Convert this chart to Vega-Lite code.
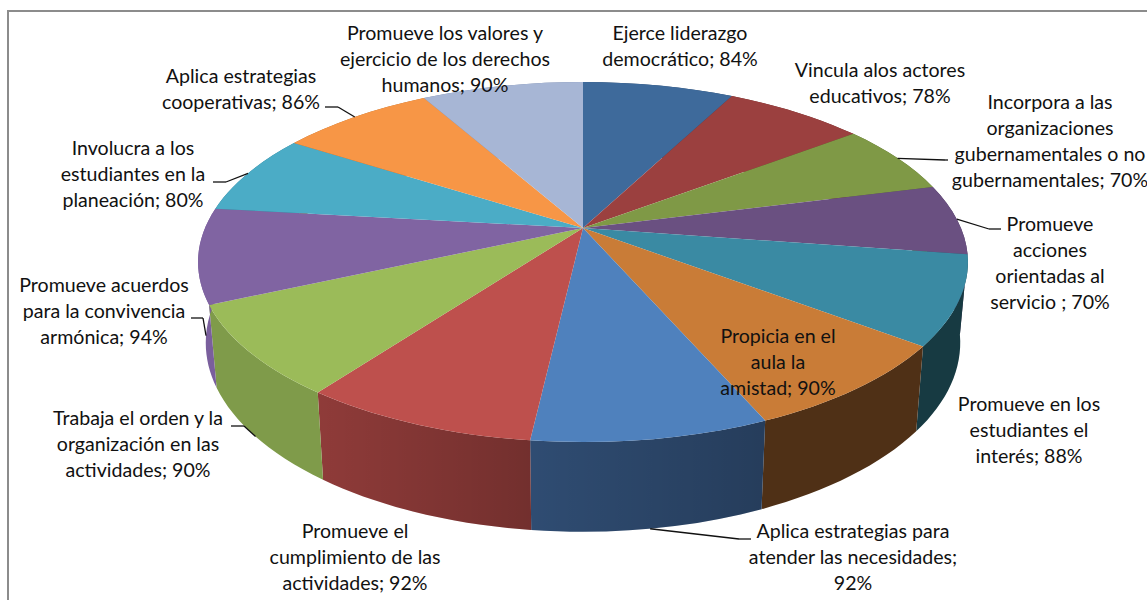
{
"$schema":"https://vega.github.io/schema/vega-lite/v6.json",
"width":1160,"height":610,
"padding":{"left":8,"top":11,"right":0,"bottom":0},
"autosize":{"type":"none"},
"background":"white",
"config":{"view":{"stroke":"#8c8c8c","strokeWidth":2}},
"datasets":{
"anchors":[
{"order":1,"tx":680,"ty":34,"ex":-1,"ey":-1,"ex2":-1},
{"order":2,"tx":880,"ty":71,"ex":-1,"ey":-1,"ex2":-1},
{"order":3,"tx":1050,"ty":103,"ex":945,"ey":160,"ex2":948},
{"order":4,"tx":1050,"ty":225,"ex":989,"ey":229,"ex2":1001},
{"order":5,"tx":1029,"ty":405,"ex":-1,"ey":-1,"ex2":-1},
{"order":6,"tx":778,"ty":337,"ex":-1,"ey":-1,"ex2":-1},
{"order":7,"tx":853,"ty":532,"ex":739,"ey":539,"ex2":751},
{"order":8,"tx":355,"ty":532,"ex":-1,"ey":-1,"ex2":-1},
{"order":9,"tx":138,"ty":419,"ex":244,"ey":426,"ex2":231},
{"order":10,"tx":104,"ty":286,"ex":203,"ey":318,"ex2":191},
{"order":11,"tx":133,"ty":149,"ex":226,"ey":182,"ex2":213},
{"order":12,"tx":241,"ty":77,"ex":338,"ey":107,"ex2":325},
{"order":13,"tx":445,"ty":34,"ex":-1,"ey":-1,"ex2":-1}
]
},
"data":{"values":[
{"order":1,"label":"Ejerce liderazgo\ndemocrático; 84%","value":84},
{"order":2,"label":"Vincula alos actores\neducativos; 78%","value":78},
{"order":3,"label":"Incorpora a las\norganizaciones\ngubernamentales o no\ngubernamentales; 70%","value":70},
{"order":4,"label":"Promueve\nacciones\norientadas al\nservicio ; 70%","value":70},
{"order":5,"label":"Promueve en los\nestudiantes el\ninterés; 88%","value":88},
{"order":6,"label":"Propicia en el\naula la\namistad; 90%","value":90},
{"order":7,"label":"Aplica estrategias para\natender las necesidades;\n92%","value":92},
{"order":8,"label":"Promueve el\ncumplimiento de las\nactividades; 92%","value":92},
{"order":9,"label":"Trabaja el orden y la\norganización en las\nactividades; 90%","value":90},
{"order":10,"label":"Promueve acuerdos\npara la convivencia\narmónica; 94%","value":94},
{"order":11,"label":"Involucra a los\nestudiantes en la\nplaneación; 80%","value":80},
{"order":12,"label":"Aplica estrategias\ncooperativas; 86%","value":86},
{"order":13,"label":"Promueve los valores y\nejercicio de los derechos\nhumanos; 90%","value":90}
]},
"transform":[
{"joinaggregate":[{"op":"sum","field":"value","as":"total"}]},
{"window":[{"op":"sum","field":"value","as":"cum"}],"sort":[{"field":"order","order":"ascending"}],"frame":[null,0]},
{"calculate":"2*PI*(datum.cum-datum.value)/datum.total","as":"t0"},
{"calculate":"2*PI*datum.cum/datum.total","as":"t1"},
{"calculate":"(datum.t0+datum.t1)/2","as":"tm"},
{"calculate":"1+0.189*cos(datum.t0)","as":"d0"},
{"calculate":"1+0.189*cos(datum.t1)","as":"d1"},
{"calculate":"1+0.189*cos(datum.tm)","as":"dm"},
{"calculate":"round(37800*sin(datum.t0)/datum.d0)/100","as":"px0"},
{"calculate":"round(-17360*cos(datum.t0)/datum.d0)/100","as":"py0"},
{"calculate":"round(37800*sin(datum.t1)/datum.d1)/100","as":"px1"},
{"calculate":"round(-17360*cos(datum.t1)/datum.d1)/100","as":"py1"},
{"calculate":"378*sin(datum.tm)/datum.dm","as":"pxm"},
{"calculate":"-173.6*cos(datum.tm)/datum.dm","as":"pym"},
{"calculate":"round(98*datum.px0)/100","as":"bx0"},
{"calculate":"round(105*datum.py0+7900)/100","as":"by0"},
{"calculate":"round(98*datum.px1)/100","as":"bx1"},
{"calculate":"round(105*datum.py1+7900)/100","as":"by1"},
{"calculate":"'M0,0L'+datum.px0+','+datum.py0+'A384.9,180 0 0 1 '+datum.px1+','+datum.py1+'Z'","as":"topPath"},
{"calculate":"'M'+datum.px0+','+datum.py0+'A384.9,180 0 0 1 '+datum.px1+','+datum.py1+'L'+datum.bx1+','+datum.by1+'A377.2,189 0 0 0 '+datum.bx0+','+datum.by0+'Z'","as":"wallPath"},
{"calculate":"-cos(datum.tm)>0.1","as":"front"},
{"calculate":"583+(datum.front?0.98:1)*datum.pxm","as":"rimX"},
{"calculate":"228+(datum.front?1.05*datum.pym+79:datum.pym)","as":"rimY"},
{"calculate":"583","as":"cx"},
{"calculate":"228","as":"cy"},
{"lookup":"order","from":{"data":{"name":"anchors"},"key":"order","fields":["tx","ty","ex","ey","ex2"]}}
],
"layer":[
{"mark":{"type":"point","filled":true,"opacity":1,"size":4},
"encoding":{
"x":{"field":"cx","type":"quantitative","scale":{"domain":[8,1168],"zero":false},"axis":null},
"y":{"field":"cy","type":"quantitative","scale":{"domain":[11,621],"reverse":true,"zero":false},"axis":null},
"shape":{"field":"wallPath","type":"nominal","scale":null},
"color":{"field":"order","type":"nominal","legend":null,"scale":{"domain":[1,2,3,4,5,6,7,8,9,10,11,12,13],"range":["#2b4668","#6b2c2b","#57692f","#473658","#173a42","#4f3016","#2f4c72","#8f3b39","#7f9b4a","#7a5f9d","#2e7a90","#b56a2a","#7485a8"]}}
}},
{"transform":[{"filter":"datum.order==7||datum.order==8"}],
"mark":{"type":"point","filled":true,"opacity":1,"size":4,"fill":{"gradient":"linear","x1":0,"y1":0,"x2":1,"y2":0,"stops":[{"offset":0,"color":"rgba(0,0,0,0)"},{"offset":1,"color":"rgba(0,0,0,0.2)"}]}},
"encoding":{
"x":{"field":"cx","type":"quantitative","scale":{"domain":[8,1168],"zero":false},"axis":null},
"y":{"field":"cy","type":"quantitative","scale":{"domain":[11,621],"reverse":true,"zero":false},"axis":null},
"shape":{"field":"wallPath","type":"nominal","scale":null}
}},
{"mark":{"type":"point","filled":true,"opacity":1,"size":4},
"encoding":{
"x":{"field":"cx","type":"quantitative","scale":{"domain":[8,1168],"zero":false},"axis":null},
"y":{"field":"cy","type":"quantitative","scale":{"domain":[11,621],"reverse":true,"zero":false},"axis":null},
"shape":{"field":"topPath","type":"nominal","scale":null},
"color":{"field":"order","type":"nominal","legend":null,"scale":{"domain":[1,2,3,4,5,6,7,8,9,10,11,12,13],"range":["#3e6a9b","#9b403f","#7f9946","#6a5081","#3a8aa3","#c97c37","#4f81bd","#be504d","#9bbb59","#8064a2","#4bacc6","#f79646","#a7b6d5"]}}
}},
{"transform":[{"filter":"datum.ex>0"}],
"mark":{"type":"rule","color":"#111111","strokeWidth":1.3},
"encoding":{
"x":{"field":"rimX","type":"quantitative","scale":{"domain":[8,1168],"zero":false},"axis":null},
"y":{"field":"rimY","type":"quantitative","scale":{"domain":[11,621],"reverse":true,"zero":false},"axis":null},
"x2":{"field":"ex"},"y2":{"field":"ey"}
}},
{"transform":[{"filter":"datum.ex>0"}],
"mark":{"type":"rule","color":"#111111","strokeWidth":1.3},
"encoding":{
"x":{"field":"ex","type":"quantitative","scale":{"domain":[8,1168],"zero":false},"axis":null},
"y":{"field":"ey","type":"quantitative","scale":{"domain":[11,621],"reverse":true,"zero":false},"axis":null},
"x2":{"field":"ex2"}
}},
{"mark":{"type":"text","font":"Lato","fontSize":19.6,"lineHeight":26,"lineBreak":"\n","align":"center","baseline":"middle","color":"#111111"},
"encoding":{
"x":{"field":"tx","type":"quantitative","scale":{"domain":[8,1168],"zero":false},"axis":null},
"y":{"field":"ty","type":"quantitative","scale":{"domain":[11,621],"reverse":true,"zero":false},"axis":null},
"text":{"field":"label","type":"nominal"}
}}
],
"resolve":{"scale":{"color":"independent"}}
}
